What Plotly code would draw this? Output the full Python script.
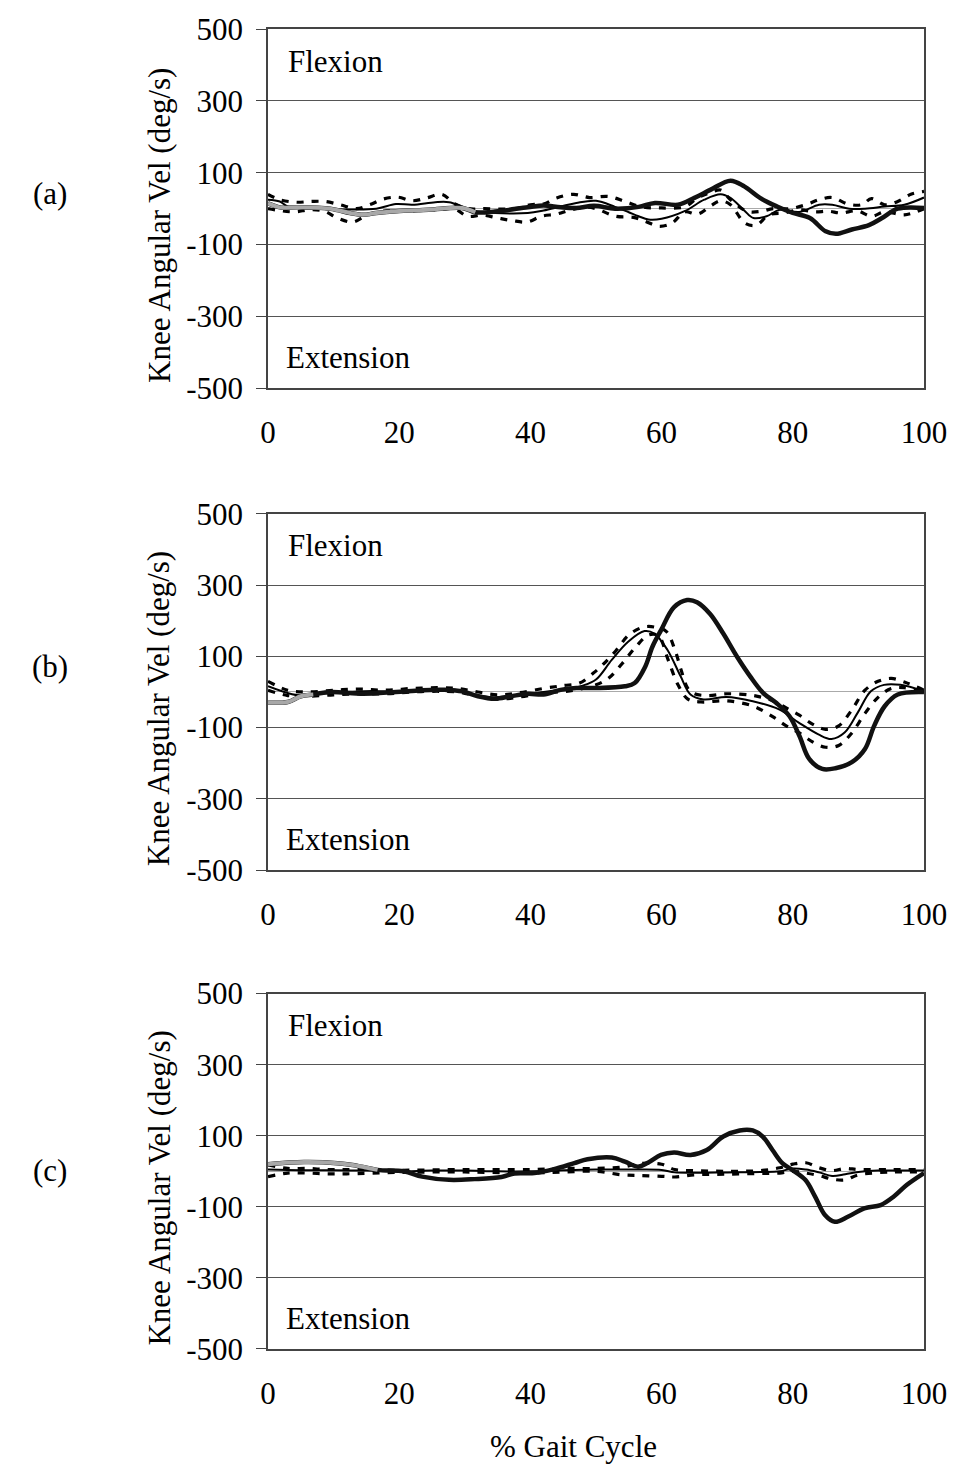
import plotly.graph_objects as go

# % gait cycle / knee angular velocity (deg/s) for each condition
# Panel (a)
a_patient_x = [0, 2, 4.4, 9.5, 12.5, 14.5, 16.5, 19.5, 24.5, 29.6, 31.6, 34.6, 39.6, 42, 44.6, 47, 49.7,
               52.9, 56.5, 59, 62.5, 65, 67.5, 70.5, 72.6, 75, 77.6, 80, 82.6, 85, 86.6, 89, 91.6, 93.6, 96, 100]
a_patient_y = [15, 3, 4, 0, -12, -17, -12, -7, -3, 2, -10, -8, 4, 9, 4, 2, 8,
               0, 5, 16, 11, 30, 53, 78, 62, 30, 6, -12, -26, -63, -70, -58, -46, -26, 0, 2]
a_mean_x = [0, 1.8, 3, 7, 12, 16.5, 19.5, 22, 25.5, 27.6, 29.6, 31.6, 34.6, 39.6, 42, 44.6, 47, 50,
            52.9, 55, 56.5, 58, 60, 63.5, 66.5, 69, 70.5, 72.6, 74, 76, 78, 81, 84, 86, 88.6, 91, 94, 97, 100]
a_mean_y = [25, 20, 6, 0, -2, 0, 13, 11, 18, 18, 6, -7, -12, -12, -5, 6, 16, 22,
            5, -10, -21, -30, -28, -7, 25, 40, 30, -5, -26, -21, -3, -9, 11, 11, 0, 0, 6, 11, 31]
a_upper_x = [0, 1.8, 4.3, 6.5, 8.7, 11, 13.5, 15.5, 17.6, 19.8, 22, 24.2, 26.5, 28.5, 30.6, 33, 37.6,
             40, 42, 44, 46.6, 49, 51.9, 54.4, 57, 60, 63.5, 65.5, 67.5, 69, 70.5, 73, 75, 77, 79.5,
             82, 84, 86, 88.4, 90.5, 92, 94, 96, 98, 100]
a_upper_y = [40, 25, 18, 20, 20, 11, 0, 11, 27, 32, 22, 30, 40, 13, 0, 0, 0,
             11, 13, 30, 40, 31, 34, 20, 5, 2, 5, 30, 45, 52, 25, -7, -8, 0, 0,
             11, 25, 31, 13, 11, 28, 11, 20, 40, 48]
a_lower_x = [0, 4, 6.3, 8.6, 10.6, 12.9, 15.1, 17.6, 19.6, 21.6, 24, 26, 28.4, 30.4, 32.7, 35, 37.2,
             39.5, 41.7, 44, 46.2, 48.7, 50, 53, 55.7, 57.5, 59.6, 61.6, 63.5, 65.5, 67.5, 69, 70.5,
             72.7, 74.4, 76.4, 78.7, 81, 83.4, 85.4, 87.4, 89.8, 92, 94, 97, 100]
a_lower_y = [0, -9, -3, -7, -26, -37, -18, -7, -5, -7, -3, -3, 0, -21, -18, -26, -33,
             -37, -21, -15, -3, 4, 0, -21, -24, -35, -49, -40, -9, -15, 8, 22, 11,
             -40, -46, -17, -12, -3, -9, -7, -12, -6, -21, -9, -17, 0]

# Panel (b)
b_patient_x = [0, 3, 5, 6.9, 9.5, 14.5, 19.5, 23.5, 27, 29.6, 32, 34.6, 37, 39.6, 42, 44.6, 47, 49.9,
               54.4, 55.9, 57.5, 58.6, 59.9, 61.9, 63.9, 65.4, 67.4, 69.4, 71.5, 73.5, 75.5, 77.5,
               79.5, 81, 82.5, 84.5, 86.5, 89, 91, 92.4, 94, 96, 100]
b_patient_y = [-30, -28, -12, -7, 0, -5, 0, 5, 6, 2, -12, -19, -12, -5, -7, 6, 11, 11,
               16, 25, 71, 127, 173, 238, 258, 252, 219, 164, 99, 44, -3, -31,
               -68, -123, -188, -216, -214, -197, -160, -95, -40, -7, 0]
b_mean_x = [0, 3, 5, 8, 12, 16, 20, 24, 28, 31, 34, 37, 40, 44, 46, 48, 50, 52.4, 54.9, 57.4, 58.9,
            60.9, 62.9, 64.4, 66.4, 69.9, 73.9, 77.9, 80.9, 83.9, 85.9, 87.9, 89.9, 91.9, 93.9, 96.4, 100]
b_mean_y = [16, -3, -10, -5, 0, 3, 0, 5, 8, -5, -15, -12, -5, 5, 10, 18, 35, 90, 141, 171, 164,
            118, 44, -7, -21, -14, -26, -49, -86, -119, -132, -114, -58, 2, 20, 20, 2]
b_upper_x = [0, 3, 6, 10, 14, 18, 22, 26, 29, 32, 35, 38, 42, 45, 47.5, 49.6, 51, 53, 55, 57.2, 59,
             60.7, 62, 63, 64, 65, 67, 70, 74, 77, 79, 81, 83, 85, 87, 89, 91, 93, 95, 97, 100]
b_upper_y = [30, 5, 0, 5, 8, 5, 10, 12, 10, 0, -8, -3, 10, 18, 25, 53, 76, 115, 160, 182, 182,
             170, 120, 60, 10, -5, -10, -5, -10, -25, -45, -65, -90, -105, -95, -50, 5, 30, 38, 28, 5]
b_lower_x = [0, 3, 6, 10, 14, 18, 22, 26, 29, 32, 35, 38, 42, 46, 50, 52, 54, 56, 58, 59.5, 61,
             62.5, 64, 66, 70, 74, 77, 79, 81, 83, 85, 87, 89, 91, 93, 95, 97, 100]
b_lower_y = [5, -10, -12, -8, -5, -5, 0, 2, 0, -12, -20, -15, -3, 3, 20, 40, 80, 125, 160, 158, 90,
             20, -20, -28, -25, -40, -70, -95, -115, -140, -155, -150, -115, -60, -15, 10, 12, -2]

# Panel (c)
c_patient_x = [0, 5.5, 10.6, 12.9, 16.7, 20.7, 23.5, 27.6, 31.5, 35.6, 37.6, 40.6, 43.6, 46.7, 48.7,
               52.4, 54.4, 56.4, 57.9, 59.9, 61.9, 64.4, 66.9, 69.4, 71.9, 73.9, 75.4, 76.9, 78.4,
               79.9, 81.9, 83.4, 84.9, 86.4, 88.4, 90.9, 93.4, 95.4, 97.4, 100]
c_patient_y = [20, 26, 23, 18, 4, 0, -15, -24, -22, -16, -6, -5, 6, 23, 34,
               39, 27, 13, 24, 46, 53, 46, 60, 98, 115, 115, 98, 60, 23,
               4, -24, -71, -123, -142, -128, -104, -95, -71, -38, -5]
c_mean_x = [0, 5, 10, 15, 20, 25, 30, 35, 40, 45, 50, 55, 60, 62, 65, 70, 75, 78, 80, 82, 84, 86,
            88, 90, 93, 96, 100]
c_mean_y = [5, 3, 3, 2, 0, 2, 2, 0, 0, 3, 5, 5, 4, -3, -4, -3, -2, 0, 8, 5, -3, -13,
            -8, -2, 2, 2, 2]
c_upper_x = [0, 3, 6, 9, 12, 20, 30, 40, 45, 50, 54, 57, 60, 62, 65, 70, 75, 78, 80, 82, 84, 86,
             88, 90, 95, 100]
c_upper_y = [18, 8, 8, 5, 5, 3, 5, 5, 8, 8, 12, 22, 20, 5, 2, 0, 2, 10, 20, 24, 10, 2,
             8, 5, 5, 5]
c_lower_x = [0, 3, 6, 9, 12, 20, 30, 40, 45, 50, 54, 57, 60, 62, 65, 70, 75, 78, 80, 82, 84, 86,
             88, 90, 95, 100]
c_lower_y = [-15, -5, -5, -7, -7, -3, -2, -5, -2, 0, -10, -12, -14, -16, -10, -8, -6, -5, 0, -5,
             -12, -22, -24, -10, -2, -2]

panel_labels = ["(a)", "(b)", "(c)"]
y_ticks = [-500, -300, -100, 100, 300, 500]
y_tick_text = ["-500", "-300", "-100", "100", "300", "500"]
x_ticks = [0, 20, 40, 60, 80, 100]
y_title = "Knee Angular Vel (deg/s)"
x_title = "% Gait Cycle"
# stretch of the patient trace printed in light grey at the start of each panel
grey_until = [30, 5, 15]

panels = [
    (a_patient_x, a_patient_y, a_mean_x, a_mean_y, a_upper_x, a_upper_y, a_lower_x, a_lower_y),
    (b_patient_x, b_patient_y, b_mean_x, b_mean_y, b_upper_x, b_upper_y, b_lower_x, b_lower_y),
    (c_patient_x, c_patient_y, c_mean_x, c_mean_y, c_upper_x, c_upper_y, c_lower_x, c_lower_y),
]

FONT = "Liberation Serif, Times New Roman, serif"
W, H = 959, 1472
L, R = 268, 932
tops = [23, 510, 992]
bottoms = [384, 868, 1349]
plot_bottom = bottoms[-1]
span = plot_bottom - tops[0]

fig = go.Figure()
for i, (px, py, mx, my, ux, uy, lx, ly) in enumerate(panels):
    xa = "x" if i == 0 else f"x{i+1}"
    ya = "y" if i == 0 else f"y{i+1}"
    dot = dict(color="black", width=3.2, dash="7px,8px")
    fig.add_trace(go.Scatter(x=ux, y=uy, mode="lines", line=dict(shape="spline", **dot),
                             xaxis=xa, yaxis=ya, showlegend=False))
    fig.add_trace(go.Scatter(x=lx, y=ly, mode="lines", line=dict(shape="spline", **dot),
                             xaxis=xa, yaxis=ya, showlegend=False))
    fig.add_trace(go.Scatter(x=mx, y=my, mode="lines",
                             line=dict(color="black", width=2, shape="spline"),
                             xaxis=xa, yaxis=ya, showlegend=False))
    fig.add_trace(go.Scatter(x=px, y=py, mode="lines",
                             line=dict(color="#111111", width=4.5, shape="spline"),
                             xaxis=xa, yaxis=ya, showlegend=False))
    n = sum(1 for v in px if v <= grey_until[i]) + 1
    fig.add_trace(go.Scatter(x=px[:n], y=py[:n], mode="lines",
                             line=dict(color="#a8a8a8", width=4, shape="spline"),
                             xaxis=xa, yaxis=ya, showlegend=False))

    dom_y = [(plot_bottom - bottoms[i]) / span, (plot_bottom - tops[i]) / span]
    xkey = "xaxis" if i == 0 else f"xaxis{i+1}"
    ykey = "yaxis" if i == 0 else f"yaxis{i+1}"
    fig.layout[xkey] = dict(domain=[0, 1], anchor=ya, range=[0, 100], tickvals=x_ticks,
                            ticks="", showgrid=False, zeroline=False,
                            showline=True, mirror=True, linecolor="#444", linewidth=1.5,
                            ticklabelstandoff=16,
                            tickfont=dict(family=FONT, size=31, color="black"))
    fig.layout[ykey] = dict(domain=dom_y, anchor=xa, range=[-500, 500], tickvals=y_ticks,
                            ticktext=y_tick_text,
                            ticks="outside", ticklen=10, tickcolor="#444", tickwidth=1.2,
                            showgrid=True, gridcolor="#555", gridwidth=1.2,
                            zeroline=True, zerolinecolor="#aaaaaa", zerolinewidth=1,
                            showline=True, mirror=True, linecolor="#444", linewidth=1.5,
                            ticklabelstandoff=7,
                            tickfont=dict(family=FONT, size=31, color="black"))

    cy = (plot_bottom - (tops[i] + bottoms[i]) / 2 - 17) / span
    fig.add_annotation(text=y_title, xref="paper", yref="paper", x=(158 - L) / (R - L), y=cy,
                       textangle=-90, showarrow=False, xanchor="center", yanchor="middle",
                       font=dict(family=FONT, size=31, color="black"))
    fig.add_annotation(text=panel_labels[i], xref="paper", yref="paper",
                       x=(47 - L) / (R - L), y=(plot_bottom - [188, 663, 1170][i]) / span,
                       showarrow=False, xanchor="center", yanchor="middle",
                       font=dict(family=FONT, size=31, color="black"))
    fig.add_annotation(text="Flexion", xref=f"{xa} domain", yref=f"{ya} domain",
                       x=0.028, y=0.91, showarrow=False, xanchor="left", yanchor="middle",
                       font=dict(family=FONT, size=31, color="black"))
    fig.add_annotation(text="Extension", xref=f"{xa} domain", yref=f"{ya} domain",
                       x=0.024, y=0.085, showarrow=False, xanchor="left", yanchor="middle",
                       font=dict(family=FONT, size=31, color="black"))

fig.add_annotation(text=x_title, xref="paper", yref="paper", x=(577 - L) / (R - L),
                   y=(plot_bottom - 1447) / span, showarrow=False,
                   xanchor="center", yanchor="middle",
                   font=dict(family=FONT, size=31, color="black"))

fig.update_layout(width=W, height=H, margin=dict(l=L, r=W - R, t=tops[0], b=H - plot_bottom),
                  paper_bgcolor="white", plot_bgcolor="white")
fig.write_html("out.html")
